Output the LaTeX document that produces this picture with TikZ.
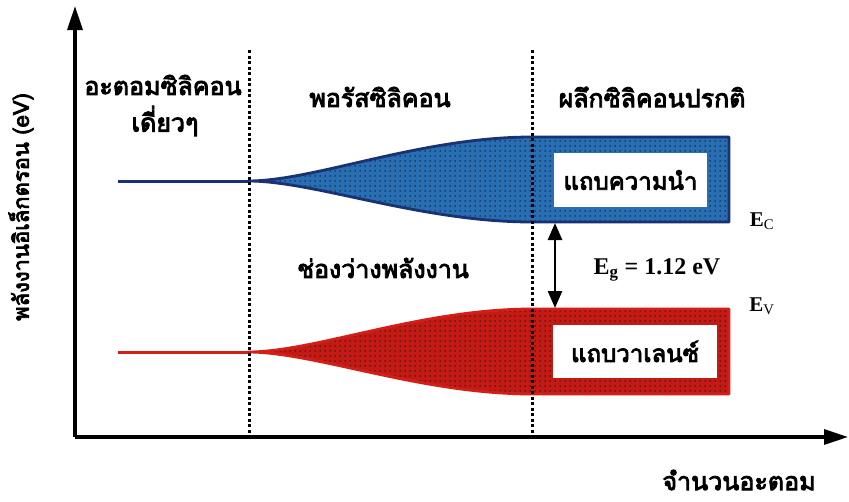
\documentclass[tikz,border=0pt]{standalone}
\usepackage{fontspec}
\setmainfont{Liberation Serif}
\newfontfamily\thai[Script=Thai,FakeBold=3.5]{Loma}
\usetikzlibrary{arrows.meta,patterns.meta}
\definecolor{bandblue}{RGB}{40,110,178}
\definecolor{bandnavy}{RGB}{24,50,116}
\definecolor{bandred}{RGB}{196,26,20}
\definecolor{bandredline}{RGB}{212,30,24}
\definecolor{dotdark}{RGB}{20,20,30}
\begin{document}
\begin{tikzpicture}[x=1pt,y=-1pt,
  axis/.style={line width=3.2pt,-{Triangle[length=24pt,width=15pt]}},
  divider/.style={line width=3pt,dash pattern=on 3.2pt off 2.3pt},
  thlabel/.style={font=\thai\fontsize{25}{29}\selectfont,align=center,inner sep=0pt},
  wbox/.style={fill=white,draw=none,font=\thai\fontsize{24}{28}\selectfont,inner sep=0pt},
  elabel/.style={font=\bfseries\fontsize{21}{24}\selectfont,inner sep=0pt},
  gaparrow/.style={line width=2.6pt,{Triangle[length=17pt,width=14pt]}-{Triangle[length=17pt,width=14pt]}},
  dotfill/.style={pattern={Dots[distance=5pt,radius=0.75pt]},pattern color=dotdark}
]
\useasboundingbox (0,0) rectangle (849,501);
\fill[white] (0,0) rectangle (849,501);

% dividers
\coordinate (d1t) at (249,50);
\coordinate (d1b) at (249,434);
\coordinate (d2t) at (532,50);
\coordinate (d2b) at (532,434);

% conduction band
\coordinate (cl) at (118,181);
\coordinate (cs) at (248,181);
\fill[bandblue] (cs) .. controls (315,181) and (420,137) .. (532,137) -- (729,137) -- (729,222) -- (532,222) .. controls (420,222) and (315,181) .. (cs) -- cycle;
\path[dotfill] (cs) .. controls (315,181) and (420,137) .. (532,137) -- (729,137) -- (729,222) -- (532,222) .. controls (420,222) and (315,181) .. (cs) -- cycle;
\draw[bandnavy,line width=2.8pt,line join=round] (cs) .. controls (315,181) and (420,137) .. (532,137) -- (729,137) -- (729,222) -- (532,222) .. controls (420,222) and (315,181) .. (cs) -- cycle;
\draw[bandnavy,line width=3pt] (cl) -- (cs);

% valence band
\coordinate (vl) at (118,352);
\coordinate (vs) at (248,352);
\fill[bandred] (vs) .. controls (315,352) and (420,309) .. (532,309) -- (729,309) -- (729,394) -- (532,394) .. controls (420,394) and (315,352) .. (vs) -- cycle;
\path[dotfill] (vs) .. controls (315,352) and (420,309) .. (532,309) -- (729,309) -- (729,394) -- (532,394) .. controls (420,394) and (315,352) .. (vs) -- cycle;
\draw[bandredline,line width=2.8pt,line join=round] (vs) .. controls (315,352) and (420,309) .. (532,309) -- (729,309) -- (729,394) -- (532,394) .. controls (420,394) and (315,352) .. (vs) -- cycle;
\draw[bandredline,line width=3pt] (vl) -- (vs);

\draw[divider] (d1t) -- (d1b);
\draw[divider] (d2t) -- (d2b);

% axes
\coordinate (origin) at (75,437);
\coordinate (ytip) at (75,6);
\coordinate (xtip) at (848,437);
\draw[axis] (origin) -- (ytip);
\draw[axis] (origin) -- (xtip);

% white boxes
\node[wbox,minimum width=153pt,minimum height=54pt] (cband) at (630.5,180) {แถบความนำ};
\node[wbox,minimum width=164pt,minimum height=53pt] (vband) at (635,351.5) {แถบวาเลนซ์};

% gap arrow
\coordinate (gtop) at (555,223);
\coordinate (gbot) at (555,308);
\draw[gaparrow] (gtop) -- (gbot);

% labels
\node[thlabel] (atom) at (163,85) {อะตอมซิลิคอน};
\node[thlabel] (single) at (165,121) {เดี่ยวๆ};
\node[thlabel] (porous) at (380,97) {พอรัสซิลิคอน};
\node[thlabel] (bulk) at (652,97) {ผลึกซิลิคอนปรกติ};
\node[thlabel] (gaplbl) at (383,268) {ช่องว่างพลังงาน};
\node[thlabel] (xlbl) at (739,480) {จำนวนอะตอม};
\node[thlabel,font=\thai\fontsize{22}{26}\selectfont,rotate=90] (ylbl) at (21,207) {พลังงานอิเล็กตรอน (eV)};
\node[elabel] (ec) at (762,221) {E\textsubscript{\mdseries C}};
\node[elabel] (ev) at (762,306) {E\textsubscript{\mdseries V}};
\node[elabel,font=\bfseries\fontsize{24}{28}\selectfont] (eg) at (657,270) {E\textsubscript{g} = 1.12 eV};
\end{tikzpicture}
\end{document}
